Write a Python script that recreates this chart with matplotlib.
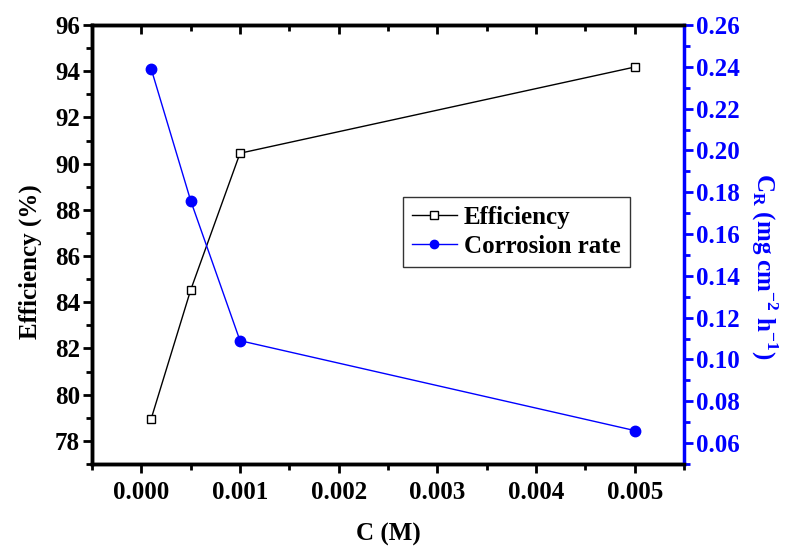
import matplotlib
matplotlib.use('Agg')
import matplotlib.pyplot as plt
from matplotlib.ticker import MultipleLocator

conc = [0.0001, 0.0005, 0.001, 0.005]
efficiency = [78.96, 84.53, 90.45, 94.18]
corrosion_rate = [0.239, 0.176, 0.109, 0.066]

plt.rcParams['font.family'] = ['Liberation Serif', 'DejaVu Serif']
plt.rcParams['font.weight'] = 'bold'
plt.rcParams['mathtext.fontset'] = 'custom'
plt.rcParams['mathtext.rm'] = 'Liberation Serif:bold'
plt.rcParams['mathtext.bf'] = 'Liberation Serif:bold'

fs = 18

fig = plt.figure(figsize=(7.89, 5.47), dpi=100)
ax = fig.add_axes([92 / 789, (547 - 464) / 547, (684 - 92) / 789, (464 - 25) / 547])
ax2 = ax.twinx()

l1, = ax.plot(conc, efficiency, color='black', lw=1, marker='s', ms=6,
              mfc='white', mec='black', mew=1, label='Efficiency')
l2, = ax2.plot(conc, corrosion_rate, color='blue', lw=1, marker='o', ms=7.5,
               mfc='blue', mec='blue', label='Corrosion rate')

ax.set_xlim(-0.0005, 0.0055)
ax.set_ylim(77, 96)
ax2.set_ylim(0.05, 0.26)

ax.xaxis.set_major_locator(MultipleLocator(0.001))
ax.xaxis.set_minor_locator(MultipleLocator(0.0005))
ax.yaxis.set_major_locator(MultipleLocator(2))
ax.yaxis.set_minor_locator(MultipleLocator(1))
ax2.yaxis.set_major_locator(MultipleLocator(0.02))
ax2.yaxis.set_minor_locator(MultipleLocator(0.01))
ax.xaxis.set_major_formatter(plt.FuncFormatter(lambda v, p: '%.3f' % v))
ax2.yaxis.set_major_formatter(plt.FuncFormatter(lambda v, p: '%.2f' % v))

ax.tick_params(axis='x', which='both', direction='out', top=True, labelsize=fs, width=2, pad=6)
ax.tick_params(axis='x', which='major', length=6.5)
ax.tick_params(axis='x', which='minor', length=4)
ax.tick_params(axis='y', which='both', direction='out', labelsize=fs, width=2, pad=2)
ax.tick_params(axis='y', which='major', length=6.5)
ax.tick_params(axis='y', which='minor', length=4)
ax2.tick_params(axis='y', which='both', direction='out', labelsize=fs, width=2,
                colors='blue', pad=2)
ax2.tick_params(axis='y', which='major', length=6.5)
ax2.tick_params(axis='y', which='minor', length=4)

# top ticks point inward
for t in ax.xaxis.get_major_ticks() + ax.xaxis.get_minor_ticks():
    t.tick2line.set_marker(3)

for s in ['left', 'bottom', 'top']:
    ax.spines[s].set_linewidth(2.5)
    ax2.spines[s].set_linewidth(2.5)
ax2.spines['right'].set_linewidth(2.5)
ax2.spines['right'].set_color('blue')
ax.spines['right'].set_visible(False)

ax.set_xlabel('C (M)', fontsize=fs, fontweight='bold', labelpad=13)
ax.set_ylabel('Efficiency (%)', fontsize=fs, fontweight='bold',
              ha='center', va='center', rotation_mode='anchor')
ax.yaxis.set_label_coords(-0.105, 0.46)
ax2.set_ylabel(r'C$_\mathregular{R}$ (mg cm$^\mathregular{-2}$ h$^\mathregular{-1}$)',
               fontsize=fs, fontweight='bold', color='blue', rotation=270,
               ha='center', va='center', rotation_mode='anchor')
ax2.yaxis.set_label_coords(1.135, 0.45)

leg = ax.legend(handles=[l1, l2], loc='lower left', bbox_to_anchor=(0.525, 0.449),
                fontsize=fs, frameon=True, fancybox=False, edgecolor='black',
                handlelength=1.8, handletextpad=0.3, borderpad=0.35, labelspacing=0.25,
                borderaxespad=0)
leg.get_frame().set_linewidth(1)
for t in leg.get_texts():
    t.set_fontweight('bold')
for h in leg.legend_handles:
    h.set_markersize(6)

fig.savefig('out.png', dpi=100)
